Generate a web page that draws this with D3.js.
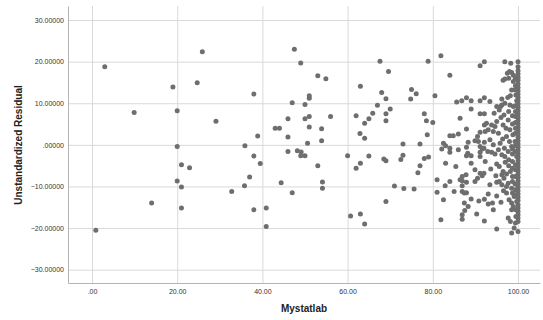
<!DOCTYPE html>
<html>
<head>
<meta charset="utf-8">
<script src="https://cdn.jsdelivr.net/npm/d3@7"></script>
<style>
  body { margin: 0; background: #fff; }
  svg { display: block; font-family: "Liberation Sans", Arial, sans-serif; }
</style>
</head>
<body>
<div id="chart"></div>
<script>
// tick values
const xTicks = [0, 20, 40, 60, 80, 100];
const yTicks = [-30, -20, -10, 0, 10, 20, 30];

// [Mystatlab, Unstandardized Residual], grouped by score band
const pointsLow = [
  [0.9, -20.5], [3.0, 18.8], [9.9, 7.8], [14.0, -14.0], [19.0, 13.9], [20.0, 8.2], [20.0, -0.4],
  [20.0, -8.7], [21.0, -4.8], [21.0, -10.1], [21.0, -15.2], [22.9, -5.5], [24.7, 14.9], [25.9, 22.4],
  [29.1, 5.7], [32.8, -11.2], [35.8, -9.8], [35.9, -0.2], [37.0, -7.7], [38.0, 12.2], [38.0, -2.7],
  [38.0, -15.6], [38.9, 2.1], [39.5, -4.5]
];
const points40 = [
  [40.9, -15.2], [40.9, -19.6], [43.0, 4.0], [44.0, 4.0], [44.4, -9.1], [46.0, 6.3], [46.0, 1.9],
  [46.0, -1.6], [47.0, 10.1], [47.0, -11.5], [47.5, 23.0], [48.2, -1.4], [49.0, 19.7], [49.1, -1.7],
  [49.0, -2.6], [50.0, 9.7], [50.0, 6.3], [50.0, -2.6], [50.6, 0.4], [51.0, 11.8], [51.0, 11.2],
  [51.0, 6.8], [51.0, 4.3], [53.0, 16.6], [53.0, -5.0], [53.9, 3.9], [53.9, 1.0], [54.1, -8.9],
  [54.1, -10.4], [54.9, 15.9], [56.0, 6.8]
];
const points60 = [
  [60.0, -2.6], [60.7, -17.1], [62.0, 7.0], [62.0, -5.6], [62.9, 2.7], [63.0, 14.1], [63.0, -4.4],
  [63.0, -16.6], [64.0, 5.2], [64.0, 1.6], [64.0, -19.0], [65.0, 6.3], [65.0, -2.7], [65.9, 7.6],
  [67.0, 9.5], [67.6, 20.1], [68.0, 12.6], [68.5, -3.4], [69.0, 11.1], [69.0, 7.5], [69.0, 5.8],
  [69.0, -3.8], [69.0, -13.6], [69.6, 17.6], [70.0, 8.6], [71.0, -9.9], [72.5, -3.5], [73.0, 0.2],
  [73.0, -2.5], [73.2, -10.5], [74.8, 11.0], [75.0, 13.3], [75.6, -10.6], [76.1, 12.3], [76.5, -6.7],
  [77.0, 0.2], [77.0, -5.0], [78.0, 7.5], [78.0, -3.3], [78.5, 5.8], [78.7, 2.4], [78.9, 20.1],
  [79.0, -2.9]
];
const points80 = [
  [80.0, 5.4], [80.5, 11.8], [81.0, -8.4], [81.0, -11.4], [81.9, 21.4], [81.9, -18.0], [82.1, -1.0],
  [82.5, 0.4], [82.5, -13.2], [82.9, -9.8], [83.0, -0.2], [83.0, -4.4], [84.0, 16.7], [84.0, 2.2],
  [84.0, -0.8], [84.0, -1.8], [84.0, -8.8], [84.8, 2.2], [85.0, -11.2], [85.4, -5.2], [85.6, 10.3],
  [86.0, 2.6], [86.0, -1.2], [86.4, 6.4], [86.4, -8.4], [86.8, 10.6], [86.9, -7.6], [86.9, -8.6],
  [86.9, -9.8], [86.9, -11.2], [86.9, -16.8], [86.9, -17.9], [87.5, -15.8], [87.4, -14.0],
  [87.4, -11.6], [87.8, -7.2], [87.9, 11.3], [87.9, 3.8], [87.9, -0.6], [87.9, -2.6], [87.9, -9.0],
  [87.9, -11.5], [88.2, -2.0], [88.3, 0.6], [88.3, -14.8], [89.0, 10.6], [89.0, 8.6], [89.0, -2.6],
  [89.0, -4.4], [89.0, -13.0], [89.9, 1.0], [89.9, -6.0], [89.9, -8.8], [90.5, 2.0], [90.5, -8.0],
  [90.7, 0.8], [90.8, -13.5], [90.3, -16.6]
];
const points90 = [
  [91.1, 19.0], [91.1, 10.6], [91.1, 7.5], [91.1, 3.0], [91.1, -0.4], [91.1, -1.8], [91.1, -2.8],
  [91.1, -6.8], [91.6, -1.0], [91.6, -7.4], [92.1, 20.0], [92.1, 11.3], [92.1, 7.5], [92.1, 4.8],
  [92.1, 0.6], [92.1, -13.1], [92.1, -18.3], [92.0, -6.8], [92.0, -0.8], [92.3, -4.0], [92.6, 5.2],
  [92.3, 3.2], [92.9, -1.6], [93.0, 3.6], [93.0, -11.8], [93.0, -14.2], [93.4, 10.4], [93.4, 1.2],
  [93.8, 4.8], [93.8, -1.8], [94.0, -14.0], [94.2, 3.2], [94.2, 0.0], [94.2, -15.6], [94.6, 4.4],
  [94.6, -2.2], [95.0, 9.2], [95.0, 5.6], [95.0, -4.6], [95.0, -9.0], [95.0, -12.3], [95.0, -20.2],
  [95.4, 2.8], [95.4, -1.2], [95.6, 8.4], [95.6, -5.2], [95.6, -8.8], [95.8, 0.4], [95.9, 9.2],
  [96.2, 11.0], [96.2, 9.6], [96.2, -2.4], [96.2, -7.2], [96.2, -9.6], [96.5, 15.5], [96.5, 4.8],
  [96.5, -6.4], [96.7, 7.2], [96.7, -8.0], [96.9, 20.0], [96.9, 15.8], [96.9, 10.0], [96.9, -2.8],
  [97.2, 4.0], [97.3, 2.0], [97.3, -7.0], [97.3, -10.0], [97.3, -11.6], [97.5, 17.2], [97.7, 6.0],
  [97.7, -1.6], [97.7, -9.2], [97.7, -17.6], [97.9, -13.2], [98.0, 17.6], [98.1, 9.6], [98.1, 3.6],
  [98.3, 19.6], [98.5, 17.4], [98.5, 13.2], [98.5, -0.4], [98.5, -10.4], [98.5, -14.0],
  [98.5, -15.6], [98.5, -21.2], [98.8, 2.4], [98.9, 16.7], [98.9, 15.2], [98.9, 9.2], [98.9, -14.8],
  [99.1, -12.4], [99.1, -20.0], [99.3, 13.2], [99.3, 0.8], [99.3, -9.4], [99.5, 12.0], [99.5, -15.6],
  [99.5, -17.2], [99.7, 10.6], [99.7, -2.8], [99.7, -13.6]
];
const points98 = [
  [97.8, 16.0], [97.8, 8.0], [97.8, -3.6], [97.8, -5.0], [98.7, 7.0], [98.7, 5.0], [98.7, -1.0],
  [98.7, -2.2], [98.7, -4.0], [98.7, -5.6], [98.7, -7.6], [98.7, -8.8], [98.7, -11.6],
  [99.4, 16.0], [99.4, 14.2], [99.4, 9.4], [99.4, 8.0], [99.4, 6.8], [99.4, 5.4], [99.4, 4.0],
  [99.4, 2.8], [99.4, -0.2], [99.4, -1.6], [99.4, -4.8], [99.4, -6.0], [99.4, -7.6], [99.4, -10.8],
  [99.4, -12.0], [99.4, -18.8], [96.0, 6.6], [96.4, 1.4], [96.8, -0.8], [97.0, -4.2], [97.6, 11.4],
  [98.2, 11.8], [98.2, -6.4], [98.0, 0.8], [96.6, -11.0], [94.4, 7.6], [93.6, -5.8], [94.8, -7.4],
  [93.4, -9.6], [98.2, -18.4], [96.0, -13.8]
];
const points100 = [
  [100, 20.0], [100, 18.8], [100, 17.8], [100, 17.0], [100, 16.2], [100, 15.5], [100, 14.6],
  [100, 13.8], [100, 13.0], [100, 12.2], [100, 11.4], [100, 10.6], [100, 9.8], [100, 9.0],
  [100, 8.2], [100, 7.4], [100, 6.6], [100, 5.8], [100, 5.0], [100, 4.2], [100, 3.4], [100, 2.6],
  [100, 1.8], [100, 1.0], [100, 0.2], [100, -0.6], [100, -1.4], [100, -2.2], [100, -3.0],
  [100, -3.8], [100, -4.6], [100, -5.4], [100, -6.2], [100, -7.0], [100, -7.8], [100, -8.6],
  [100, -9.4], [100, -10.2], [100, -11.0], [100, -11.8], [100, -12.6], [100, -13.4], [100, -14.4],
  [100, -15.2], [100, -16.0], [100, -16.8], [100, -17.6], [100, -18.4], [100, -20.8]
];

const data = [].concat(pointsLow, points40, points60, points80, points90, points98, points100);

const width = 543, height = 320;
const plot = { left: 68, right: 540, top: 6, bottom: 283 };

const x = d3.scaleLinear().domain([-5.63, 105.16]).range([plot.left, plot.right]);
const y = d3.scaleLinear().domain([-33.2, 33.37]).range([plot.bottom, plot.top]);

const svg = d3.select('#chart').append('svg')
  .attr('width', width)
  .attr('height', height);

// gridlines
svg.append('g')
  .attr('class', 'grid-x')
  .attr('transform', 'translate(0,' + plot.bottom + ')')
  .call(d3.axisBottom(x).tickValues(xTicks).tickSize(-(plot.bottom - plot.top)).tickFormat(''))
  .call(g => g.select('.domain').remove())
  .call(g => g.selectAll('line').attr('stroke', '#d9d9d9'));

svg.append('g')
  .attr('class', 'grid-y')
  .attr('transform', 'translate(' + plot.left + ',0)')
  .call(d3.axisLeft(y).tickValues(yTicks).tickSize(-(plot.right - plot.left)).tickFormat(''))
  .call(g => g.select('.domain').remove())
  .call(g => g.selectAll('line').attr('stroke', '#d9d9d9'));

// axes
const fmtY = d => d3.format('.5f')(d).replace(/^(-?)0\./, '$1.');
const fmtX = d => d3.format('.2f')(d).replace(/^0\./, '.');

svg.append('g')
  .attr('class', 'y-axis')
  .attr('transform', 'translate(' + plot.left + ',0)')
  .call(d3.axisLeft(y).tickValues(yTicks).tickSize(0).tickPadding(4).tickFormat(fmtY))
  .call(g => g.select('.domain').attr('stroke', '#b4b4b4'))
  .selectAll('text')
  .style('font-size', '7px')
  .attr('fill', '#333');

svg.append('g')
  .attr('class', 'x-axis')
  .attr('transform', 'translate(0,' + plot.bottom + ')')
  .call(d3.axisBottom(x).tickValues(xTicks).tickSize(0).tickPadding(6).tickFormat(fmtX))
  .call(g => g.select('.domain').attr('stroke', '#b4b4b4'))
  .selectAll('text')
  .style('font-size', '7px')
  .attr('fill', '#333');

// points
svg.append('g')
  .selectAll('circle')
  .data(data)
  .enter().append('circle')
  .attr('cx', d => x(d[0]))
  .attr('cy', d => y(d[1]))
  .attr('r', 2.5)
  .attr('fill', '#6e6e6e');

// axis titles
svg.append('text')
  .attr('x', 304)
  .attr('y', 312)
  .style('text-anchor', 'middle')
  .style('font-size', '10px')
  .style('font-weight', 'bold')
  .attr('fill', '#222')
  .text('Mystatlab');

svg.append('text')
  .attr('transform', 'rotate(-90)')
  .attr('x', -145)
  .attr('y', 22)
  .style('text-anchor', 'middle')
  .style('font-size', '10px')
  .style('font-weight', 'bold')
  .attr('fill', '#222')
  .text('Unstandardized Residual');
</script>
</body>
</html>
